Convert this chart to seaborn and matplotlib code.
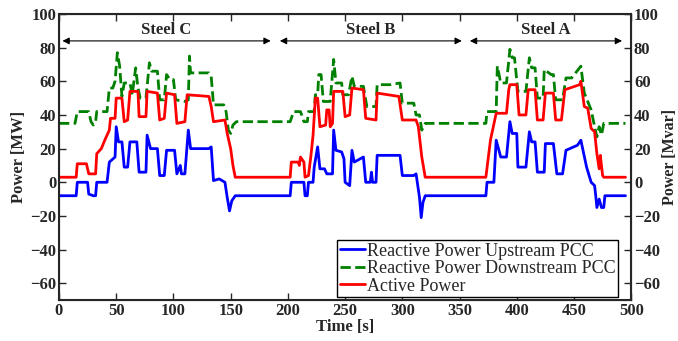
import matplotlib
matplotlib.use("Agg")
import matplotlib.pyplot as plt
import pandas as pd
import seaborn as sns

# red: active power [MW]
ACTIVE_T = [0, 15, 16, 24, 26, 32, 33, 37, 40, 44, 45, 49, 50, 55, 57, 60, 62, 69, 70, 76, 77, 86,
            88, 92, 94, 101, 103, 110, 112, 131, 133, 135, 145, 147, 150, 152, 154, 202, 203, 209,
            210, 211, 214, 215, 218, 220, 222, 224, 226, 228, 233, 234, 236, 237, 239, 240, 248,
            250, 254, 256, 266, 268, 277, 278, 297, 300, 312, 314, 317, 320, 373, 377, 382, 391,
            393, 394, 400, 402, 408, 410, 416, 418, 423, 425, 432, 434, 439, 442, 455, 456, 459,
            462, 465, 468, 470, 472, 473, 475, 476, 495]
ACTIVE_P = [3, 3, 11, 11, 5, 5, 17, 20, 25, 31, 38, 38, 50, 50, 36, 37, 54, 54, 39, 39, 54, 53,
            37, 38, 53, 52, 35, 36, 52, 51, 45, 36, 37, 29, 20, 10, 3, 3, 12, 12,
            10, 15, 12, 3, 4, 15, 28, 50, 50, 33, 34, 43, 43, 33, 35, 54, 54,
            39, 40, 56, 55, 38, 37, 53, 51, 37, 37, 33, 15, 3, 3, 25, 41, 41,
            55, 58, 58, 40, 40, 55, 55, 37, 37, 53, 53, 37, 37, 55, 58, 60, 45,
            44, 32, 30, 17, 8, 16, 4, 3, 3]

# blue: reactive power upstream PCC [Mvar]
UP_T = [0, 15, 16, 25, 26, 30, 32, 33, 42, 44, 49, 50, 52, 55, 57, 60, 62, 68, 70, 76, 77, 80, 86,
        88, 92, 94, 101, 103, 106, 107, 110, 113, 115, 131, 133, 135, 140, 145, 147, 149, 151, 154,
        202, 203, 214, 215, 217, 218, 222, 223, 226, 228, 232, 234, 239, 240, 242, 247, 249, 250,
        254, 256, 258, 266, 268, 272, 273, 274, 277, 278, 298, 300, 310, 312, 315, 316.5, 318, 320,
        373, 374, 380, 382, 386, 391, 394, 396, 400, 401, 408, 411, 413, 416, 418, 424, 425, 432,
        435, 440, 443, 453, 456, 461, 465, 468, 469, 470, 472, 474, 476, 477, 495]
UP_Q = [-8, -8, 0, 0, -7, -8, -8, 0, 0, 12, 15, 33, 24, 24, 9, 9, 24, 24, 6, 6, 28, 20, 20,
        4, 4, 19, 19, 5, 10, 5, 5, 31, 20, 20, 21, 1, 2, 0, -9, -17, -11, -8,
        -8, 0, 0, -8, -8, 0, 0, 9, 21, 8, 8, 5, 5, 31, 19, 18, 14, 0,
        -2, 19, 12, 15, 0, 0, 6, 0, 0, 16, 16, 4, 4, 5, -9, -21, -12, -8,
        -8, 0, 0, 25, 15, 15, 36, 29, 29, 9, 9, 30, 24, 24, 6, 6, 23, 23,
        5, 5, 19, 22, 25, 9, 0, -2, -8, -15, -10, -15, -15, -8, -8]

# green: reactive power downstream PCC [Mvar]
DOWN_T = [0, 14, 16, 26, 28, 30, 32, 33, 42, 44, 47, 49, 51, 53, 55, 57, 62, 64, 67, 69, 71, 76,
          79, 81, 86, 88, 92, 94, 97, 100, 102, 110, 113, 114, 115, 131, 133, 135, 144, 146, 148,
          150, 152, 155, 202, 205, 211, 214, 217, 218, 223, 224, 226, 227, 229, 231, 237, 240, 242,
          247, 248, 253, 256, 258, 266, 269, 277, 278, 290, 298, 300, 310, 312, 315, 317, 320, 373,
          374, 382, 383, 386, 391, 394, 396, 398, 401, 408, 411, 413, 416, 418, 423, 424, 430, 432,
          434, 440, 443, 448, 456, 459, 462, 465, 468, 470, 472, 474, 476, 495]
DOWN_Q = [35, 35, 42, 42, 36, 34, 36, 42, 42, 56, 56, 60, 77, 69, 51, 59, 59, 52, 68, 56, 50, 50,
          71, 66, 66, 49, 49, 64, 61, 61, 49, 48, 49, 75, 65, 65, 63, 46, 46, 42, 31,
          29, 34, 36, 36, 42, 42, 36, 36, 42, 42, 52, 52, 64, 64, 48, 48, 73, 59,
          59, 52, 52, 63, 57, 57, 45, 45, 58, 58, 59, 47, 47, 40, 40, 31, 35, 35,
          42, 42, 69, 59, 59, 79, 74, 74, 54, 54, 74, 68, 68, 50, 50, 67, 64, 64,
          49, 49, 62, 62, 69, 53, 48, 43, 33, 27, 33, 28, 35, 35]

SERIES = ["Reactive Power Upstream PCC", "Reactive Power Downstream PCC", "Active Power"]
COLORS = {SERIES[0]: "#0000ff", SERIES[1]: "#008000", SERIES[2]: "#ff0000"}

STEEL_LABELS = ["Steel C", "Steel B", "Steel A"]
STEEL_SPANS = [(3, 185), (193, 352), (359, 492)]

X_TICKS = list(range(0, 501, 50))
Y_TICKS = list(range(-60, 101, 20))

sns.set_style("ticks")
plt.rcParams["font.family"] = ["Liberation Serif", "DejaVu Serif"]
plt.rcParams["xtick.direction"] = "in"
plt.rcParams["ytick.direction"] = "in"

df = pd.concat([
    pd.DataFrame({"t": UP_T, "v": UP_Q, "series": SERIES[0]}),
    pd.DataFrame({"t": DOWN_T, "v": DOWN_Q, "series": SERIES[1]}),
    pd.DataFrame({"t": ACTIVE_T, "v": ACTIVE_P, "series": SERIES[2]}),
], ignore_index=True)

fig, ax = plt.subplots(figsize=(6.78, 3.41), dpi=100)
fig.subplots_adjust(left=0.087, right=0.931, top=0.959, bottom=0.12)

for name in SERIES:
    sub = df[df["series"] == name]
    sns.lineplot(data=sub, x="t", y="v", color=COLORS[name], lw=2, sort=False,
                 estimator=None, ax=ax, label=name,
                 linestyle="--" if name == SERIES[1] else "-")

ax.set_xlim(0, 500)
ax.set_ylim(-70, 100)
ax.set_xticks(X_TICKS)
ax.set_yticks(Y_TICKS)
ax.tick_params(axis="both", labelsize=12, width=1, length=5, top=True, pad=2)
for lab in ax.get_xticklabels() + ax.get_yticklabels():
    lab.set_fontweight("bold")
for sp in ax.spines.values():
    sp.set_linewidth(1.5)

ax.set_xlabel("Time [s]", fontsize=12, fontweight="bold", labelpad=0)
ax.set_ylabel("Power [MW]", fontsize=12, fontweight="bold", labelpad=2)

ax2 = ax.twinx()
ax2.set_ylim(-70, 100)
ax2.set_yticks(Y_TICKS)
ax2.tick_params(axis="y", labelsize=12, width=1, length=5, pad=2)
for lab in ax2.get_yticklabels():
    lab.set_fontweight("bold")
ax2.set_ylabel("Power [Mvar]", fontsize=11.5, fontweight="bold", labelpad=1)

for label, (x0, x1) in zip(STEEL_LABELS, STEEL_SPANS):
    ax.annotate("", xy=(x0, 84), xytext=(x1, 84),
                arrowprops=dict(arrowstyle="<|-|>", color="black", lw=0.8,
                                mutation_scale=10, shrinkA=0, shrinkB=0))
    ax.text((x0 + x1) / 2, 85.5, label, ha="center", va="bottom",
            fontsize=12, fontweight="bold")

leg = ax.legend(loc="lower right", bbox_to_anchor=(0.977, 0.01), fontsize=13,
                frameon=True, fancybox=False, framealpha=1, edgecolor="black",
                handlelength=1.4, handletextpad=0.1, labelspacing=0.02,
                borderpad=0.15, borderaxespad=0)
leg.get_frame().set_linewidth(1)

fig.savefig("out.png", dpi=100)
